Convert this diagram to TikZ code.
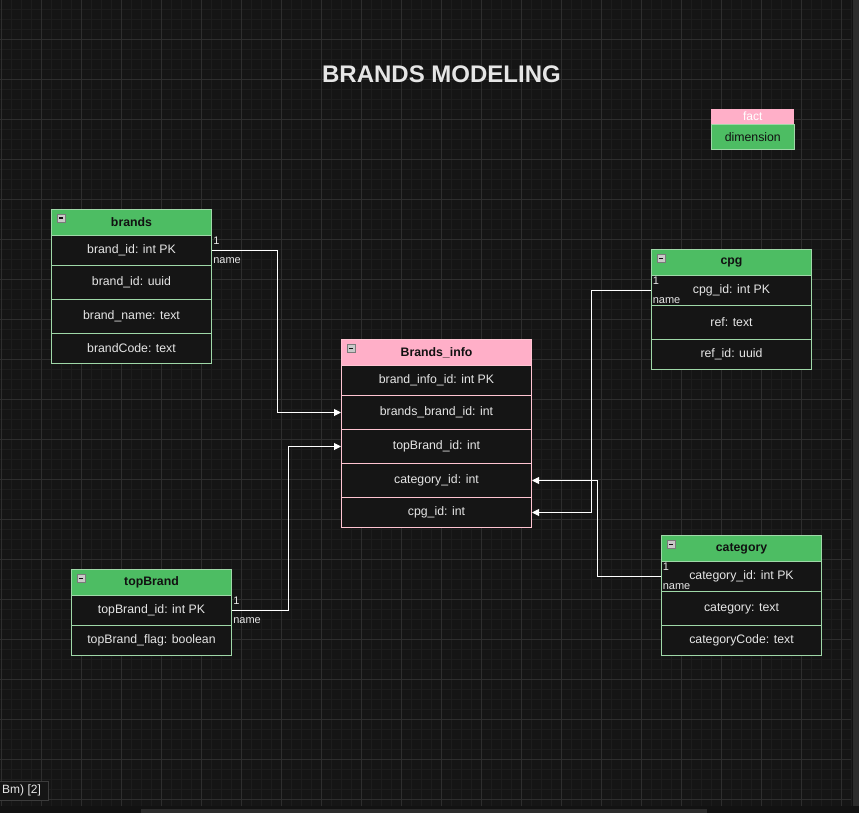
\documentclass[tikz,border=0pt]{standalone}
\usepackage{fontspec}
\setmainfont{Liberation Sans}
\usetikzlibrary{arrows.meta}
\definecolor{bg}{HTML}{151515}
\definecolor{gridminor}{HTML}{1D1D1D}
\definecolor{gridmajor}{HTML}{2E2E2E}
\definecolor{hdrgreen}{HTML}{4DBD63}
\definecolor{bordgreen}{HTML}{9FD8A8}
\definecolor{hdrpink}{HTML}{FFAFC8}
\definecolor{bordpink}{HTML}{FFC4D2}
\definecolor{txt}{HTML}{E6E6E6}
\definecolor{hdrtxt}{HTML}{111111}
\definecolor{iconfill}{HTML}{C8C8C8}
\definecolor{icondraw}{HTML}{7A7A7A}
\definecolor{barbg}{HTML}{121212}
\definecolor{thumb}{HTML}{2C2C2C}
\definecolor{tabdraw}{HTML}{3C3C3C}
\newcommand\mnsicon[2]{%
  \filldraw[fill=iconfill,draw=icondraw,line width=0.6pt] (#1+6,#2+5) rectangle (#1+14,#2+13);
  \draw[hdrtxt,line width=1pt] (#1+7.8,#2+9) -- (#1+12.2,#2+9);}
\tikzset{
  cell/.style={draw=#1,fill=bg,line width=1pt,anchor=north west,inner sep=0pt,
    text=txt,font=\fontsize{12.3}{14}\selectfont},
  hdr/.style={draw=#1,line width=1pt,anchor=north west,inner sep=0pt,
    text=hdrtxt,font=\bfseries\fontsize{12.3}{14}\selectfont,minimum height=26pt},
  conn/.style={draw=white,line width=1pt,-{Triangle[length=7pt,width=7pt]}},
  lbl/.style={text=txt,font=\fontsize{11}{12}\selectfont,inner sep=0.6pt,anchor=west},
}
\begin{document}
\begin{tikzpicture}[x=1pt,y=-1pt]
\useasboundingbox (0,0) rectangle (859,813);
\fill[bg] (0,0) rectangle (859,813);
% grid
\foreach \x in {1,11,...,851} \draw[gridminor,line width=0.8pt] (\x,0) -- (\x,806);
\foreach \y in {9,19,...,799} \draw[gridminor,line width=0.8pt] (0,\y) -- (851,\y);
\foreach \x in {1,41,...,841} \draw[gridmajor,line width=0.9pt] (\x,0) -- (\x,806);
\foreach \y in {39,79,...,799} \draw[gridmajor,line width=0.9pt] (0,\y) -- (851,\y);
% scroll bars
\fill[barbg] (0,806) rectangle (859,813);
\fill[thumb] (141,809) rectangle (707,813);
\fill[barbg] (852,0) rectangle (859,813);
\fill[thumb] (853,0) rectangle (858.5,806);
% tab
\node[draw=tabdraw,fill=bg,line width=1pt,anchor=north west,minimum width=49pt,minimum height=19pt,inner sep=0pt] (tab) at (-1,780.5) {};
\node[text=txt,font=\fontsize{12}{14}\selectfont,anchor=west,inner sep=0pt] (tabtxt) at (2,790) {Bm) [2]};

% title
\node[text=txt,font=\bfseries\fontsize{24}{28}\selectfont] (title) at (441.5,74) {BRANDS MODELING};

% legend
\node[fill=hdrpink,anchor=north west,minimum width=83pt,minimum height=15pt,inner sep=0pt,text=white,font=\fontsize{12}{14}\selectfont] (fact) at (711,109) {fact};
\node[fill=hdrgreen,draw=bordgreen,line width=0.6pt,anchor=north west,minimum width=83pt,minimum height=25pt,inner sep=0pt,text=hdrtxt,font=\fontsize{12.3}{14}\selectfont] (dim) at (711,124) {dimension};

% brands
\node[hdr=bordgreen,fill=hdrgreen,minimum width=160pt] (brh) at (51,209) {brands};
\node[cell=bordgreen,minimum width=160pt,minimum height=30pt] (br1) at (51,235) {brand\_id: int PK};
\node[cell=bordgreen,minimum width=160pt,minimum height=34pt] (br2) at (51,265) {brand\_id: uuid};
\node[cell=bordgreen,minimum width=160pt,minimum height=34pt] (br3) at (51,299) {brand\_name: text};
\node[cell=bordgreen,minimum width=160pt,minimum height=30pt] (br4) at (51,333) {brandCode: text};
\mnsicon{51}{209}

% Brands_info
\node[hdr=bordpink,fill=hdrpink,minimum width=190pt] (bih) at (341,339) {Brands\_info};
\node[cell=bordpink,minimum width=190pt,minimum height=30pt] (bi1) at (341,365) {brand\_info\_id: int PK};
\node[cell=bordpink,minimum width=190pt,minimum height=34pt] (bi2) at (341,395) {brands\_brand\_id: int};
\node[cell=bordpink,minimum width=190pt,minimum height=34pt] (bi3) at (341,429) {topBrand\_id: int};
\node[cell=bordpink,minimum width=190pt,minimum height=34pt] (bi4) at (341,463) {category\_id: int};
\node[cell=bordpink,minimum width=190pt,minimum height=30pt] (bi5) at (341,497) {cpg\_id: int};
\mnsicon{341}{339}

% cpg
\node[hdr=bordgreen,fill=hdrgreen,minimum width=160pt] (cph) at (651,249) {cpg};
\node[cell=bordgreen,minimum width=160pt,minimum height=30pt] (cp1) at (651,275) {cpg\_id: int PK};
\node[cell=bordgreen,minimum width=160pt,minimum height=34pt] (cp2) at (651,305) {ref: text};
\node[cell=bordgreen,minimum width=160pt,minimum height=30pt] (cp3) at (651,339) {ref\_id: uuid};
\mnsicon{651}{249}

% category
\node[hdr=bordgreen,fill=hdrgreen,minimum width=160pt] (cah) at (661,535) {category};
\node[cell=bordgreen,minimum width=160pt,minimum height=30pt] (ca1) at (661,561) {category\_id: int PK};
\node[cell=bordgreen,minimum width=160pt,minimum height=34pt] (ca2) at (661,591) {category: text};
\node[cell=bordgreen,minimum width=160pt,minimum height=30pt] (ca3) at (661,625) {categoryCode: text};
\mnsicon{661}{535}

% topBrand
\node[hdr=bordgreen,fill=hdrgreen,minimum width=160pt] (tbh) at (71,569) {topBrand};
\node[cell=bordgreen,minimum width=160pt,minimum height=30pt] (tb1) at (71,595) {topBrand\_id: int PK};
\node[cell=bordgreen,minimum width=160pt,minimum height=30pt] (tb2) at (71,625) {topBrand\_flag: boolean};
\mnsicon{71}{569}

% connectors
\draw[conn] (br1.east) -- ++(65,0) |- (bi2.west);
\draw[conn] (tb1.east) -- ++(56,0) |- (bi3.west);
\draw[conn] (cp1.west) -- ++(-60,0) |- (bi5.east);
\draw[conn] (ca1.west) -- ++(-64,0) |- (bi4.east);

% labels
\node[lbl] (l1a) at (212.5,240.5) {1};
\node[lbl] (l1b) at (212.5,261) {name};
\node[lbl] (l2a) at (232.5,600.5) {1};
\node[lbl] (l2b) at (232.5,621) {name};
\node[lbl,fill=bg] (l3a) at (652,280.5) {1};
\node[lbl,fill=bg] (l3b) at (652,301) {name};
\node[lbl,fill=bg] (l4a) at (662,566.5) {1};
\node[lbl,fill=bg] (l4b) at (662,587) {name};
\end{tikzpicture}
\end{document}
